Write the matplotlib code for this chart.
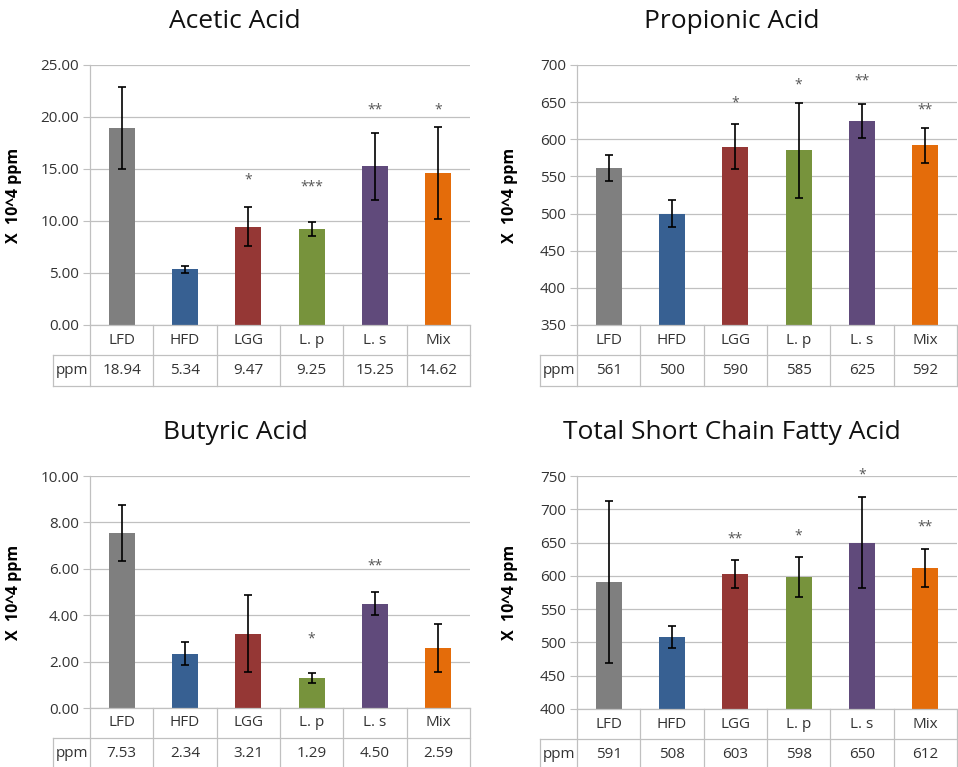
import matplotlib
matplotlib.use("Agg")
import matplotlib.pyplot as plt
from matplotlib.lines import Line2D
from matplotlib.transforms import blended_transform_factory
from matplotlib.ticker import FormatStrFormatter

plt.rcParams['font.family'] = ['Open Sans', 'DejaVu Sans']

groups = ["LFD", "HFD", "LGG", "L. p", "L. s", "Mix"]
colors = ["#7f7f7f", "#376092", "#953735", "#77933c", "#604a7b", "#e46c0a"]

acetic_mean = [18.94, 5.34, 9.47, 9.25, 15.25, 14.62]
acetic_err = [3.9, 0.3, 1.9, 0.7, 3.25, 4.4]
acetic_stars = ["", "", "*", "***", "**", "*"]
acetic_star_y = [0, 0, 13.9, 13.3, 20.7, 20.7]

propionic_mean = [561, 500, 590, 585, 625, 592]
propionic_err = [17.5, 18, 30.5, 64, 23, 23.5]
propionic_stars = ["", "", "*", "*", "**", "**"]
propionic_star_y = [0, 0, 649, 673, 678, 640]

butyric_mean = [7.53, 2.34, 3.21, 1.29, 4.50, 2.59]
butyric_err = [1.2, 0.5, 1.65, 0.21, 0.5, 1.04]
butyric_stars = ["", "", "", "*", "**", ""]
butyric_star_y = [0, 0, 0, 2.97, 6.1, 0]

total_mean = [591, 508, 603, 598, 650, 612]
total_err = [121.5, 16.8, 21, 30, 68.7, 29]
total_stars = ["", "", "**", "*", "*", "**"]
total_star_y = [0, 0, 656, 660, 751, 673]

W, H = 958, 767
fig = plt.figure(figsize=(W / 100, H / 100), dpi=100)

GRID = "#c0c0c0"
TXT = "#333333"


def make_axes(left, right, top, bottom):
    return fig.add_axes([left / W, 1 - bottom / H, (right - left) / W, (bottom - top) / H])


def panel(ax, title, tx, ty, means, errs, stars, star_y, ylim, step, fmt, vfmt, ph):
    x = range(len(groups))
    ax.bar(x, [m - ylim[0] for m in means], bottom=ylim[0], width=0.41, color=colors, zorder=2)
    ax.errorbar(x, means, yerr=errs, fmt="none", ecolor="black", elinewidth=1.2,
                capsize=3, capthick=1.2, zorder=3)
    for i, s in enumerate(stars):
        if s:
            ax.text(i, star_y[i], s, ha="center", va="center", fontsize=10, color="#555555")

    ax.set_xlim(-0.5, len(groups) - 0.5)
    ax.set_ylim(*ylim)
    ticks = []
    t = ylim[0]
    while t <= ylim[1] + 1e-9:
        ticks.append(t)
        t += step
    ax.set_yticks(ticks)
    ax.yaxis.set_major_formatter(FormatStrFormatter(fmt))
    ax.set_xticks([])
    ax.grid(axis="y", color=GRID, lw=0.9, zorder=0)
    ax.tick_params(axis="y", length=5, color=GRID, labelsize=11, labelcolor=TXT, pad=3)
    for side in ["top", "right"]:
        ax.spines[side].set_visible(False)
    for side in ["left", "bottom"]:
        ax.spines[side].set_color(GRID)
        ax.spines[side].set_linewidth(0.9)
    ax.set_ylabel("X  10^4 ppm", fontsize=11.5, fontweight="bold", color="black")

    # data table under the axis
    h1 = 30 / ph
    h2 = 31 / ph
    wppm = 0.58
    tr = blended_transform_factory(ax.transData, ax.transAxes)
    n = len(groups)
    kw = dict(transform=tr, color=GRID, lw=0.9, clip_on=False)
    for k in range(n + 1):
        ax.add_line(Line2D([k - 0.5, k - 0.5], [0, -(h1 + h2)], **kw))
    ax.add_line(Line2D([-0.5 - wppm, -0.5 - wppm], [-h1, -(h1 + h2)], **kw))
    ax.add_line(Line2D([-0.5 - wppm, n - 0.5], [-h1, -h1], **kw))
    ax.add_line(Line2D([-0.5 - wppm, n - 0.5], [-(h1 + h2), -(h1 + h2)], **kw))
    for i, g in enumerate(groups):
        ax.text(i, -h1 / 2, g, transform=tr, ha="center", va="center", fontsize=11, color=TXT)
        ax.text(i, -h1 - h2 / 2, vfmt.format(means[i]), transform=tr, ha="center",
                va="center", fontsize=11, color=TXT)
    ax.text(-0.5 - wppm / 2, -h1 - h2 / 2, "ppm", transform=tr, ha="center", va="center",
            fontsize=11, color=TXT)
    ax.set_xlim(-0.5, n - 0.5)
    ax.set_ylim(*ylim)

    fig.text(tx / W, 1 - ty / H, title, ha="center", va="center", fontsize=19, color="#111111")


ax1 = make_axes(90, 470, 65, 325)
panel(ax1, "Acetic Acid", 235, 22, acetic_mean, acetic_err, acetic_stars, acetic_star_y,
      (0, 25), 5, "%.2f", "{:.2f}", 260)
ax1.yaxis.set_label_coords(-0.18, 0.5)

ax2 = make_axes(577, 957, 65, 325)
panel(ax2, "Propionic Acid", 732, 22, propionic_mean, propionic_err, propionic_stars,
      propionic_star_y, (350, 700), 50, "%d", "{:.0f}", 260)
ax2.yaxis.set_label_coords(-0.155, 0.5)

ax3 = make_axes(90, 470, 476, 708)
panel(ax3, "Butyric Acid", 235, 433, butyric_mean, butyric_err, butyric_stars, butyric_star_y,
      (0, 10), 2, "%.2f", "{:.2f}", 232)
ax3.yaxis.set_label_coords(-0.18, 0.5)

ax4 = make_axes(577, 957, 476, 709)
panel(ax4, "Total Short Chain Fatty Acid", 732, 433, total_mean, total_err, total_stars,
      total_star_y, (400, 750), 50, "%d", "{:.0f}", 233)
ax4.yaxis.set_label_coords(-0.155, 0.5)

fig.savefig("out.png", dpi=100)
